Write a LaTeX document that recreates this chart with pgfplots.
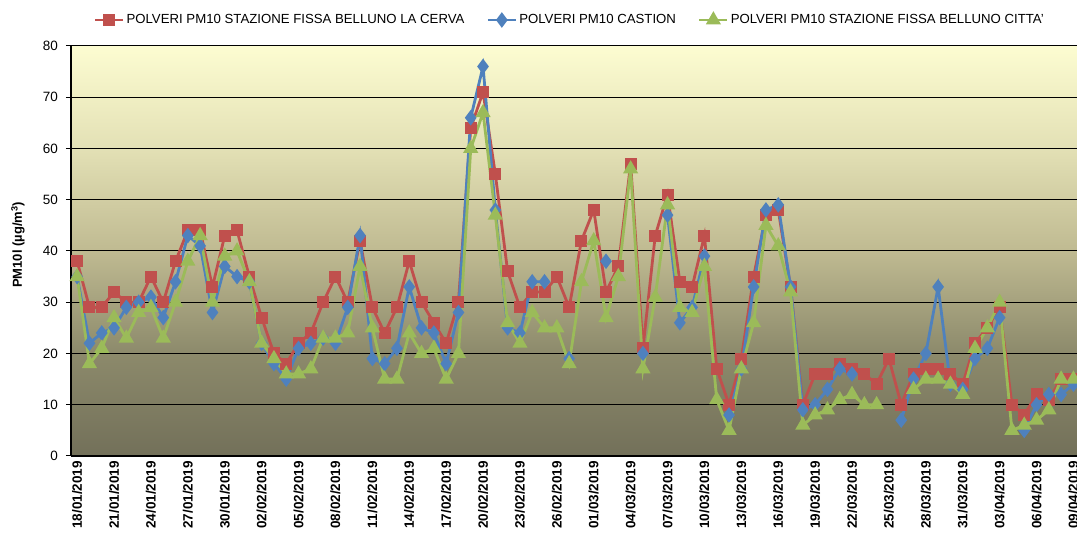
\documentclass[border=0pt]{standalone}
\usepackage{fontspec}
\setmainfont{Liberation Sans}
\usepackage{pgfplots}
\usepackage{pgfplotstable}
\pgfplotsset{compat=1.18}
\definecolor{cerva}{RGB}{192,80,77}
\definecolor{castion}{RGB}{79,129,189}
\definecolor{citta}{RGB}{155,187,89}
% background: dark olive at the bottom, pale yellow at the top
\pgfdeclareverticalshading{bgshade}{100bp}{%
  rgb(0bp)=(0.45,0.44,0.35);
  rgb(25bp)=(0.45,0.44,0.35);
  rgb(37.5bp)=(0.55,0.54,0.42);
  rgb(50bp)=(0.75,0.73,0.57);
  rgb(62.5bp)=(0.89,0.88,0.71);
  rgb(75bp)=(0.99,0.99,0.82);
  rgb(100bp)=(0.99,0.99,0.82)}

% day index (0 = 18/01/2019), PM10 values; nan = no data
\pgfplotstableread{
i  cerva castion citta
0  38  35  35
1  29  22  18
2  29  24  21
3  32  25  27
4  30  29  23
5  30  30  28
6  35  31  29
7  30  27  23
8  38  34  30
9  44  43  38
10 44  41  43
11 33  28  30
12 43  37  39
13 44  35  40
14 35  34  34
15 27  22  22
16 20  18  19
17 18  15  16
18 22  21  16
19 24  22  17
20 30  23  23
21 35  22  23
22 30  29  24
23 42  43  37
24 29  19  25
25 24  18  15
26 29  21  15
27 38  33  24
28 30  25  20
29 26  24  21
30 22  18  15
31 30  28  20
32 64  66  60
33 71  76  67
34 55  48  47
35 36  25  26
36 29  24  22
37 32  34  28
38 32  34  25
39 35  nan 25
40 29  19  18
41 42  nan 34
42 48  nan 42
43 32  38  27
44 37  nan 35
45 57  nan 56
46 21  20  17
47 43  nan 31
48 51  47  49
49 34  26  29
50 33  29  28
51 43  39  37
52 17  nan 11
53 10  8   5
54 19  17  17
55 35  33  26
56 47  48  45
57 48  49  41
58 33  33  32
59 10  9   6
60 16  10  8
61 16  13  9
62 18  17  11
63 17  16  12
64 16  nan 10
65 14  nan 10
66 19  nan nan
67 10  7   nan
68 16  15  13
69 17  20  15
70 17  33  15
71 16  14  14
72 14  13  12
73 22  19  21
74 25  21  25
75 29  27  30
76 10  nan 5
77 8   5   6
78 12  10  7
79 11  12  9
80 15  12  15
81 15  14  15
}\pm

\begin{document}
\begin{tikzpicture}
\begin{axis}[
  name=ax,
  scale only axis,
  width=1005.5pt, height=410pt,
  xmin=-0.5, xmax=81.25,
  ymin=0, ymax=80,
  ytick={0,10,...,80},
  xtick={0,3,...,81},
  xticklabels={18/01/2019,21/01/2019,24/01/2019,27/01/2019,30/01/2019,02/02/2019,05/02/2019,08/02/2019,11/02/2019,14/02/2019,17/02/2019,20/02/2019,23/02/2019,26/02/2019,01/03/2019,04/03/2019,07/03/2019,10/03/2019,13/03/2019,16/03/2019,19/03/2019,22/03/2019,25/03/2019,28/03/2019,31/03/2019,03/04/2019,06/04/2019,09/04/2019},
  minor xtick={-0.5,2.5,...,80.5},
  axis x line*=bottom, axis y line*=left,
  axis line style={-, line width=1.6pt, black},
  tick align=outside,
  major tick length=5pt, minor tick length=5pt,
  xtick style={draw=none},
  minor tick style={black, line width=1pt},
  ytick style={black, line width=1pt},
  ymajorgrids,
  major grid style={black, line width=1pt},
  axis background/.style={shading=bgshade},
  /pgf/number format/assume math mode=true,
  tick label style={font=\fontsize{13.5}{15}\selectfont},
  yticklabel style={inner sep=0pt, xshift=-8pt},
  xticklabel style={rotate=90, anchor=east, inner sep=0pt, font=\fontsize{13.5}{15}\selectfont\bfseries},
  ylabel={PM10l (µg/m\textsuperscript{3})},
  every axis y label/.style={at={(rel axis cs:-0.0527,0.515)}, rotate=90,
    anchor=center, font=\fontsize{13}{15}\selectfont\bfseries},
  unbounded coords=jump,
  legend columns=3,
  legend style={at={(0.5,1)}, anchor=center, xshift=-4pt, yshift=26pt,
    draw=none, fill=none, font=\fontsize{13.2}{15}\selectfont,
    /tikz/every even column/.append style={column sep=20pt}},
  legend image code/.code={\draw[mark repeat=2, mark phase=2, #1]
    plot coordinates {(0pt,0pt) (14pt,0pt) (28pt,0pt)};},
]
\addplot[cerva, line width=2.8pt, mark=square*, mark size=4.6pt,
  mark options={solid}] table[x=i, y=cerva] {\pm};
\addlegendentry{POLVERI PM10 STAZIONE FISSA BELLUNO LA CERVA}
\addplot[castion, line width=2.8pt, mark=diamond*, mark size=5.5pt,
  mark options={solid}] table[x=i, y=castion] {\pm};
\addlegendentry{POLVERI PM10 CASTION}
\addplot[citta, line width=2.8pt, mark=triangle*, mark size=6pt,
  mark options={solid}] table[x=i, y=citta] {\pm};
\addlegendentry{POLVERI PM10 STAZIONE FISSA BELLUNO CITTA'}
\end{axis}
\pgfresetboundingbox
\path[use as bounding box] ([xshift=-71pt, yshift=-85pt]ax.south west)
  rectangle ([xshift=0.5pt, yshift=46pt]ax.north east);
\end{tikzpicture}
\end{document}
